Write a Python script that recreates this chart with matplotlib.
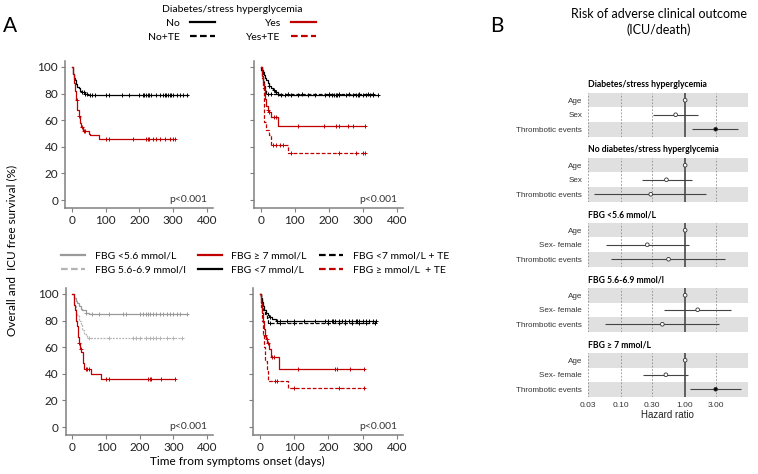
import numpy as np
import matplotlib.pyplot as plt
from matplotlib.lines import Line2D
from matplotlib.ticker import NullLocator

plt.rcParams['font.family'] = ['Lato', 'DejaVu Sans']

RED = '#c00000'
GREY = '#9a9a9a'
LGREY = '#b4b4b4'
DASH = (0, (3, 1.5))
DOT = (0, (1.5, 1))

# ---- Kaplan-Meier data (days, survival %) ----
# top-left: diabetes / stress hyperglycemia
tl_no_t = [0, 3, 5, 8, 10, 13, 16, 20, 25, 30, 40, 48, 345]
tl_no_s = [100, 97, 95, 92, 90, 87, 85, 84, 82, 81, 80, 78.7, 78.7]
tl_no_c = [30, 35, 40, 45, 55, 60, 70, 100, 110, 150, 170, 200, 210, 215, 220, 225, 230,
           235, 250, 260, 270, 275, 280, 285, 290, 295, 300, 310, 320, 330, 340]
tl_yes_t = [0, 5, 8, 10, 13, 16, 20, 25, 28, 32, 50, 55, 80, 307]
tl_yes_s = [100, 95, 88, 82, 75, 68, 63, 58, 55, 52, 50, 48.7, 45.7, 45.7]
tl_yes_c = [15, 20, 30, 35, 40, 100, 110, 180, 220, 225, 230, 240, 250, 260, 275, 290, 300, 307]

# top-right: split by thrombotic events
tr_no_t = [0, 3, 6, 9, 12, 16, 20, 25, 30, 35, 42, 50, 345]
tr_no_s = [100, 98, 96, 94, 92, 90, 88, 86, 84, 82.5, 81, 79.3, 79.3]
tr_no_c = [25, 40, 45, 60, 70, 90, 110, 140, 160, 190, 200, 210, 215, 220, 225, 230, 250,
           270, 280, 285, 290, 300, 310, 320, 330, 345]
tr_note_t = [0, 2, 5, 7, 10, 13, 15, 330]
tr_note_s = [100, 97, 93, 90, 86, 83, 79.5, 79.5]
tr_note_c = [20, 30, 50, 80, 120, 200, 230, 260, 290, 315, 330]
tr_yes_t = [0, 3, 5, 8, 12, 15, 20, 25, 30, 52, 305]
tr_yes_s = [100, 93, 88, 83, 76, 71, 68, 66, 62.5, 55.5, 55.5]
tr_yes_c = [20, 25, 40, 45, 110, 185, 220, 230, 255, 270, 305]
tr_yeste_t = [0, 3, 5, 8, 10, 15, 25, 30, 80, 305]
tr_yeste_s = [100, 92, 84, 70, 59, 53, 49, 41.7, 35.7, 35.7]
tr_yeste_c = [35, 45, 55, 65, 90, 230, 280, 300, 305]

# bottom-left: fasting blood glucose groups
bl_lo_t = [0, 5, 10, 15, 20, 25, 30, 40, 50, 342]
bl_lo_s = [100, 97, 95, 93, 91, 89, 87.7, 86, 84.7, 84.7]
bl_lo_c = [40, 60, 80, 110, 150, 160, 200, 210, 220, 225, 230, 240, 250, 260, 270, 280, 290,
           300, 310, 320, 342]
bl_mid_t = [0, 5, 10, 15, 20, 25, 30, 35, 40, 45, 325]
bl_mid_s = [100, 92, 86, 84, 80, 77, 73, 70, 69, 67.2, 67.2]
bl_mid_c = [50, 110, 180, 190, 200, 220, 230, 240, 250, 260, 280, 300, 325]
bl_hi_t = [0, 4, 6, 8, 10, 12, 14, 16, 18, 20, 22, 26, 31, 36, 57, 85, 305]
bl_hi_s = [100, 96, 92, 88, 84, 80, 76, 72, 68, 63, 59, 56.5, 47.8, 43.3, 40, 36.3, 36.3]
bl_hi_c = [20, 25, 40, 45, 50, 100, 110, 225, 230, 235, 265, 305]

# bottom-right: FBG <7 / >=7 with thrombotic events
br_lo_t = [0, 3, 6, 9, 13, 18, 23, 27, 35, 47, 340]
br_lo_s = [100, 97, 94, 91, 88, 86, 84, 82.7, 81.5, 79.7, 79.7]
br_lo_c = [30, 50, 60, 80, 100, 130, 160, 190, 200, 210, 215, 220, 230, 240, 250, 260, 270,
           280, 285, 290, 300, 310, 320, 330, 340]
br_lote_t = [0, 3, 6, 10, 15, 20, 25, 336]
br_lote_s = [100, 96, 92, 88, 85, 82, 78.5, 78.5]
br_lote_c = [30, 60, 100, 200, 230, 250, 270, 290, 310, 336]
br_hi_t = [0, 3, 6, 9, 12, 15, 18, 22, 27, 32, 55, 304]
br_hi_s = [100, 93, 86, 80, 74, 69, 66, 63.3, 58.3, 52.7, 43.3, 43.3]
br_hi_c = [15, 20, 25, 35, 40, 110, 220, 225, 262, 304]
br_hite_t = [0, 3, 6, 9, 12, 15, 20, 25, 81, 305]
br_hite_s = [100, 90, 80, 70, 60, 50, 42, 34.7, 29, 29]
br_hite_c = [45, 50, 100, 230, 305]

# ---- forest plot data (hazard ratio, 95% CI) ----
groups = ['Diabetes/stress hyperglycemia', 'No diabetes/stress hyperglycemia',
          'FBG <5.6 mmol/L', 'FBG 5.6-6.9 mmol/l', 'FBG \u2265 7 mmol/L']
row_labels = [['Age', 'Sex', 'Thrombotic events'],
              ['Age', 'Sex', 'Thrombotic events'],
              ['Age', 'Sex- female', 'Thrombotic events'],
              ['Age', 'Sex- female', 'Thrombotic events'],
              ['Age', 'Sex- female', 'Thrombotic events']]
hr = [[1.0, 0.71, 3.0], [1.0, 0.51, 0.29], [1.0, 0.256, 0.55], [1.0, 1.57, 0.44], [1.0, 0.50, 3.0]]
hr_lo = [[0.98, 0.31, 1.26], [0.98, 0.21, 0.038], [0.98, 0.057, 0.069], [0.98, 0.47, 0.056], [0.98, 0.22, 1.19]]
hr_hi = [[1.02, 1.6, 6.8], [1.02, 1.29, 2.1], [1.02, 1.15, 4.2], [1.02, 5.2, 3.38], [1.02, 1.12, 7.4]]
signif = [[False, False, True], [False, False, False], [False, False, False],
          [False, False, False], [False, False, True]]
hr_ticks = [0.03, 0.1, 0.3, 1, 3]
hr_ticklabels = ['0.03', '0.10', '0.30', '1.00', '3.00']


def km(ax, t, s, cens, color, ls='-'):
    ax.step(t, s, where='post', color=color, ls=ls, lw=0.9)
    t = np.asarray(t)
    s = np.asarray(s)
    idx = np.searchsorted(t, cens, side='right') - 1
    ax.plot(cens, s[idx], ls='none', marker='+', ms=3.5, mew=0.7, color=color)


def style(ax, ylabels=True):
    for sp in ['top', 'right']:
        ax.spines[sp].set_visible(False)
    for sp in ['left', 'bottom']:
        ax.spines[sp].set_color('#808080')
        ax.spines[sp].set_linewidth(1.1)
    ax.set_xlim(-20, 418)
    ax.set_ylim(-6, 104.5)
    ax.set_xticks([0, 100, 200, 300, 400])
    ax.set_yticks([0, 20, 40, 60, 80, 100])
    ax.tick_params(color='#808080', labelcolor='#222222', length=3, labelsize=8.5, pad=2)
    if not ylabels:
        ax.set_yticklabels([])
    ax.text(0.96, 0.055, 'p<0.001', transform=ax.transAxes, ha='right', va='center',
            fontsize=7.5, color='#333333')


W, H = 758, 474
fig = plt.figure(figsize=(7.58, 4.74), dpi=100)


def px_axes(left, top, right, bottom):
    return fig.add_axes([left / W, 1 - bottom / H, (right - left) / W, (bottom - top) / H])


ax_tl = px_axes(65, 61, 213, 208)
ax_tr = px_axes(254, 61, 403, 208)
ax_bl = px_axes(65.5, 288, 213, 435)
ax_br = px_axes(253, 288, 403, 435)

km(ax_tl, tl_no_t, tl_no_s, tl_no_c, 'black')
km(ax_tl, tl_yes_t, tl_yes_s, tl_yes_c, RED)

km(ax_tr, tr_note_t, tr_note_s, tr_note_c, 'black', DASH)
km(ax_tr, tr_no_t, tr_no_s, tr_no_c, 'black')
km(ax_tr, tr_yes_t, tr_yes_s, tr_yes_c, RED)
km(ax_tr, tr_yeste_t, tr_yeste_s, tr_yeste_c, RED, DASH)

km(ax_bl, bl_lo_t, bl_lo_s, bl_lo_c, GREY)
km(ax_bl, bl_mid_t, bl_mid_s, bl_mid_c, LGREY, DOT)
km(ax_bl, bl_hi_t, bl_hi_s, bl_hi_c, RED)

km(ax_br, br_lote_t, br_lote_s, br_lote_c, 'black', DASH)
km(ax_br, br_lo_t, br_lo_s, br_lo_c, 'black')
km(ax_br, br_hi_t, br_hi_s, br_hi_c, RED)
km(ax_br, br_hite_t, br_hite_s, br_hite_c, RED, DASH)

style(ax_tl)
style(ax_tr, False)
style(ax_bl)
style(ax_br, False)

# legends
h_top = [Line2D([], [], color='black', lw=1.6), Line2D([], [], color='black', lw=1.6, ls=DASH),
         Line2D([], [], color=RED, lw=1.6), Line2D([], [], color=RED, lw=1.6, ls=DASH)]
fig.legend(h_top, ['No', 'No+TE', 'Yes', 'Yes+TE'], ncol=2, markerfirst=False,
           title='Diabetes/stress hyperglycemia', loc='upper center',
           bbox_to_anchor=(232 / W, 1.01), frameon=False, fontsize=7.5, title_fontsize=7.5,
           handlelength=2.4, handletextpad=1.0, columnspacing=3.0, labelspacing=0.45)

h_bot = [Line2D([], [], color=GREY, lw=1.6), Line2D([], [], color=LGREY, lw=1.6, ls=DASH),
         Line2D([], [], color=RED, lw=1.6), Line2D([], [], color='black', lw=1.6),
         Line2D([], [], color='black', lw=1.6, ls=DASH), Line2D([], [], color=RED, lw=1.6, ls=DASH)]
fig.legend(h_bot, ['FBG <5.6 mmol/L', 'FBG 5.6-6.9 mmol/l', 'FBG \u2265 7 mmol/L',
                   'FBG <7 mmol/L', 'FBG <7 mmol/L + TE', 'FBG \u2265 mmol/L  + TE'],
           ncol=3, loc='center', bbox_to_anchor=(255 / W, 1 - 263 / H), frameon=False,
           fontsize=7.5, handlelength=2.3, handletextpad=0.9, columnspacing=1.2,
           labelspacing=0.5)

fig.text(3 / W, 1 - 26 / H, 'A', fontsize=15, va='center', ha='left')
fig.text(490 / W, 1 - 26 / H, 'B', fontsize=15, va='center', ha='left')
fig.text(12 / W, 1 - 250 / H, 'Overall and  ICU free survival (%)', rotation=90,
         ha='center', va='center', fontsize=8.5)
fig.text(237 / W, 1 - 461 / H, 'Time from symptoms onset (days)', ha='center',
         va='center', fontsize=8.5)
fig.text(659 / W, 1 - 22 / H, 'Risk of adverse clinical outcome\n(ICU/death)',
         ha='center', va='center', fontsize=9, linespacing=1.35)

# forest plot, one small axes per subgroup
for g in range(len(groups)):
    top = 93 + 65 * g
    ax = px_axes(587.7, top, 747.7, top + 43.5)
    ax.set_xscale('log')
    ax.set_xlim(0.03, 9.5)
    ax.set_ylim(2.5, -0.5)
    ax.axhspan(-0.5, 0.5, color='#e0e0e0', lw=0, zorder=0)
    ax.axhspan(1.5, 2.5, color='#e0e0e0', lw=0, zorder=0)
    for xv in [0.03, 0.1, 0.3, 3]:
        ax.axvline(xv, color='#8c8c8c', lw=0.6, ls=(0, (2, 2)), zorder=1)
    ax.axvline(1, color='#555555', lw=1.3, zorder=2)
    rows = np.arange(3)
    ax.hlines(rows, hr_lo[g], hr_hi[g], color='#444444', lw=0.8, zorder=3)
    fc = ['black' if s else 'white' for s in signif[g]]
    ax.scatter(hr[g], rows, s=7, facecolors=fc, edgecolors='#333333', linewidths=0.6, zorder=4)
    for sp in ax.spines.values():
        sp.set_visible(False)
    ax.set_yticks(rows)
    ax.set_yticklabels(row_labels[g], fontsize=5.8, color='#333333',
                       family=['Liberation Sans', 'DejaVu Sans'])
    ax.tick_params(axis='y', length=0, pad=4)
    ax.set_title(groups[g], loc='left', fontsize=6.2, fontweight='bold', pad=4)
    ax.xaxis.set_minor_locator(NullLocator())
    if g == len(groups) - 1:
        ax.set_xticks(hr_ticks)
        ax.set_xticklabels(hr_ticklabels, fontsize=6, color='#333333',
                           family=['Liberation Sans', 'DejaVu Sans'])
        ax.tick_params(axis='x', length=0, pad=4)
        ax.set_xlabel('Hazard ratio', fontsize=7, color='#222222', labelpad=1,
                      family=['Liberation Sans', 'DejaVu Sans'])
    else:
        ax.set_xticks([])

fig.savefig('out.png', dpi=100)
